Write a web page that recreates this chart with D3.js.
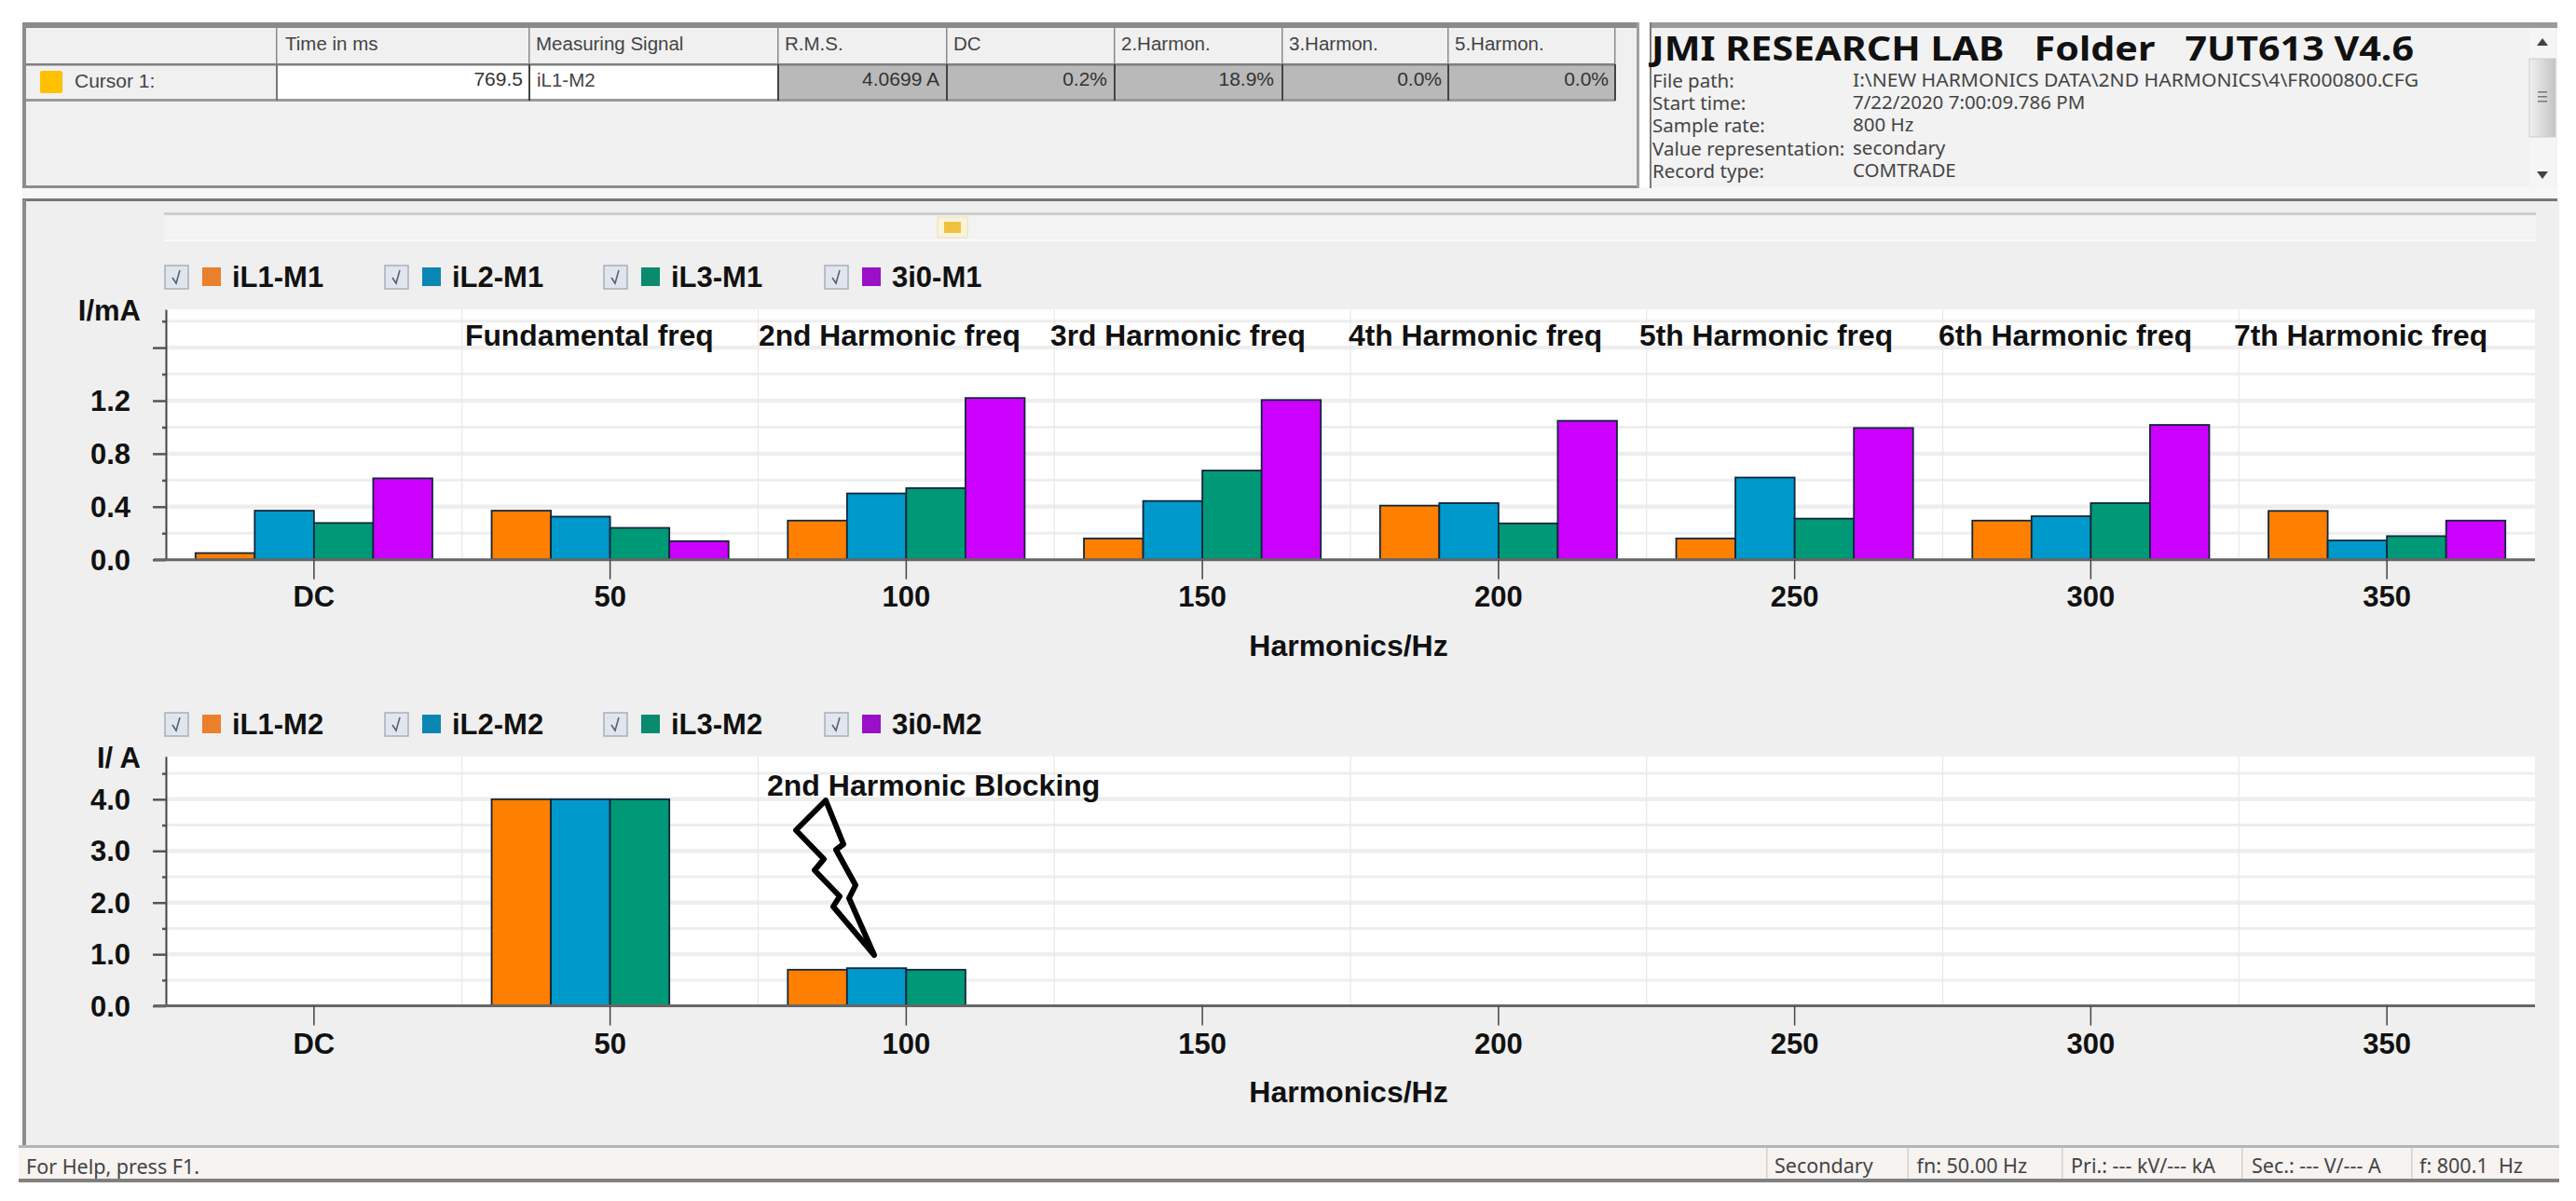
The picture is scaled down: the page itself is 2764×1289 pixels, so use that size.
<!DOCTYPE html>
<html><head><meta charset="utf-8">
<script src="https://cdn.jsdelivr.net/npm/d3@7"></script>
<style>html,body{margin:0;padding:0;background:#fff;overflow:hidden}svg{display:block}
text{white-space:pre}</style></head><body><div id="c"></div>
<script>
const categories = ["DC","50","100","150","200","250","300","350"];
const seriesTop = ["iL1-M1","iL2-M1","iL3-M1","3i0-M1"];
const seriesBottom = ["iL1-M2","iL2-M2","iL3-M2","3i0-M2"];
const iL1M1 = [0.05,0.37,0.295,0.16,0.408,0.16,0.295,0.368];
const iL2M1 = [0.37,0.325,0.50,0.443,0.427,0.62,0.328,0.145];
const iL3M1 = [0.277,0.24,0.54,0.673,0.274,0.31,0.427,0.178];
const i30M1 = [0.614,0.14,1.22,1.205,1.048,0.994,1.017,0.295];
const iL1M2 = [0,4.0,0.70,0,0,0,0,0];
const iL2M2 = [0,4.0,0.73,0,0,0,0,0];
const iL3M2 = [0,4.0,0.70,0,0,0,0,0];
const i30M2 = [0,0,0,0,0,0,0,0];
const colors = ["#ff7f00","#0099cc","#009977","#cc00ff"];
const swatchColors = ["#ea7f2c","#0a86b4","#0a8a6e","#9a10c8"];
const topTicks = [0,0.2,0.4,0.6,0.8,1.0,1.2,1.4,1.6,1.8];
const topMajor = [0,0.4,0.8,1.2,1.6];
const topLabels = [0,0.4,0.8,1.2];
const bottomTicks = [0,0.5,1,1.5,2,2.5,3,3.5,4,4.5];
const bottomMajor = [0,1,2,3,4];
const bottomLabels = [0,1,2,3,4];
const harmonicNotes = ["Fundamental freq","2nd Harmonic freq","3rd Harmonic freq","4th Harmonic freq","5th Harmonic freq","6th Harmonic freq","7th Harmonic freq"];
const tableHeaders = ["Time in ms","Measuring Signal","R.M.S.","DC","2.Harmon.","3.Harmon.","5.Harmon."];
const tableValues = ["769.5","iL1-M2","4.0699 A","0.2%","18.9%","0.0%","0.0%"];
const infoLabels = ["File path:","Start time:","Sample rate:","Value representation:","Record type:"];
const infoValues = ["I:\\NEW HARMONICS DATA\\2ND HARMONICS\\4\\FR000800.CFG","7/22/2020 7:00:09.786 PM","800 Hz","secondary","COMTRADE"];
const statusCells = ["Secondary","fn: 50.00 Hz","Pri.: --- kV/--- kA","Sec.: --- V/--- A","f: 800.1  Hz"];

const W=2764,H=1289;
const svg=d3.select("#c").append("svg").attr("width",W).attr("height",H).attr("viewBox",`0 0 ${W} ${H}`);
const SANS="'Liberation Sans',Arial,sans-serif", UI="'Noto Sans',sans-serif";
const rect=(x,y,w,h,f,g=svg)=>g.append("rect").attr("x",x).attr("y",y).attr("width",w).attr("height",h).attr("fill",f);
const text=(x,y,s,o={},g=svg)=>g.append("text").attr("x",x).attr("y",y).attr("dominant-baseline","central")
  .attr("font-family",o.ff||SANS).attr("font-size",o.fs||19).attr("font-weight",o.fw||"normal")
  .attr("fill",o.fill||"#333").attr("text-anchor",o.a||"start").text(s);

/* ---------- window chrome ---------- */
rect(24,24,1735,177,"#f0f0f0");
rect(1770,24,974,177,"#f2f2f2");
rect(24,201,2720,13,"#f7f7f7");
rect(24,214,2722,1016,"#efefef");
rect(24,24,1735,6,"#8a8a8a");
rect(1770,24,974,6,"#9a9a9a");
rect(24,199,1735,3,"#8c8c8c");
rect(24,24,4,178,"#8c8c8c");
rect(1756,24,3,178,"#a0a0a0");
rect(1770,24,2,178,"#7a7a7a");
rect(24,213,2720,3,"#777");
rect(24,214,4,1016,"#8c8c8c");

/* table */
const colX=[297,568,835,1016,1196,1376,1554,1733];
rect(835,69,898,38,"#b9b9b9");
rect(297,69,538,38,"#ffffff");
rect(28,106,1705,3,"#9a9a9a");
rect(28,68,1705,2.5,"#7f7f7f");
colX.forEach(x=>rect(x-1,30,1.5,78,"#8a8a8a"));
colX.forEach((x,i)=>rect(x-1,69,2,39,i>0?"#444":"#777"));
tableHeaders.forEach((t,i)=>text(colX[i]+(i==0?9:7),46,t,{fs:20.5,fill:"#444"}));
rect(43,76,24,24,"#ffc000").attr("rx",2);
text(80,86,"Cursor 1:",{fs:21,fill:"#444"});
const rightEdges=[561,null,1008,1188,1367,1547,1726];
tableValues.forEach((t,i)=>{
  if(i==1) text(576,85,t,{fs:20.5,fill:"#444"});
  else text(rightEdges[i],84,t,{fs:21,fill:"#333",a:"end"});
});

/* info panel */
text(1772,51,"JMI RESEARCH LAB   Folder   7UT613 V4.6",{ff:UI,fs:36,fw:"bold",fill:"#111"}).attr("textLength",818).attr("lengthAdjust","spacingAndGlyphs");
infoLabels.forEach((t,i)=>text(1773,86+i*24.2,t,{ff:UI,fs:20.5,fill:"#444"}));
infoValues.forEach((t,i)=>{
  const v=text(1988,85+i*24.2,t,{ff:UI,fs:20.5,fill:"#444"});
  if(i==0) v.attr("textLength",607).attr("lengthAdjust","spacingAndGlyphs");
});
rect(2714,30,28,170,"#f5f5f5");
const sbGrad=svg.append("defs").append("linearGradient").attr("id","sb");
sbGrad.append("stop").attr("offset",0).attr("stop-color","#f0f0f0");
sbGrad.append("stop").attr("offset",1).attr("stop-color","#c4c4c4");
rect(2714,63,28,84,"url(#sb)").attr("stroke","#ccc");
svg.append("path").attr("d","M2728 41l-6 8h12zM2728 192l-6 -8h12z").attr("fill","#444");
[98,103,108].forEach(y=>rect(2723,y,10,1.5,"#777"));

/* slider */
rect(176,228,2545,30,"#f3f3f3");
rect(176,228,2545,3,"#cdcdcd");
rect(176,257,2545,2,"#fbfbfb");
rect(1006,233,32,22,"#fbf3d8").attr("stroke","#e8e0c0");
rect(1013,238,18,12,"#f0c040");

/* status bar */
rect(20,1229,2726,3,"#b5b5b5");
rect(20,1232,2726,33,"#f6f3f1");
rect(20,1265,2726,4,"#808080");
text(28,1251,"For Help, press F1.",{ff:UI,fs:21.5,fill:"#444"});
[1895,2046.5,2212,2405,2587].forEach((x,i)=>{
  rect(x,1232,1.5,33,"#d5d2d0");
  text(x+[9,10,10,11,9][i],1250,statusCells[i],{ff:UI,fs:21.5,fill:"#444"});
});

/* ---------- charts ---------- */
function chart(o){
  const g=svg.append("g");
  const x0=d3.scaleBand().domain(categories).range([178,2720]).paddingInner(0.2).paddingOuter(0.1);
  const xStep=d3.scalePoint().domain(d3.range(categories.length+1)).range([178,2720]);
  const x1=d3.scaleBand().domain(o.names).range([0,x0.bandwidth()]);
  const y=d3.scaleLinear().domain([0,o.yMax]).range([o.base,o.top]);
  rect(178,o.top,2542,o.base-o.top,"#ffffff",g);
  // horizontal grid
  g.append("g").selectAll("line").data(o.ticks).join("line")
    .attr("x1",178).attr("x2",2720).attr("y1",d=>y(d)).attr("y2",d=>y(d))
    .attr("stroke",d=>d==0?"none":"#eeeeee").attr("stroke-width",d=>o.major.includes(d)?4.5:3);
  // vertical grid
  g.append("g").selectAll("line").data(d3.range(1,categories.length)).join("line")
    .attr("x1",d=>xStep(d)).attr("x2",d=>xStep(d)).attr("y1",o.top).attr("y2",o.base)
    .attr("stroke","#e8e8e8").attr("stroke-width",1.2);
  // bars
  o.names.forEach((n,si)=>{
    g.append("g").selectAll("rect").data(o.values[si].map((v,i)=>({v,c:categories[i]})).filter(d=>d.v>0)).join("rect")
      .attr("x",d=>x0(d.c)+x1(n)).attr("width",x1.bandwidth())
      .attr("y",d=>y(d.v)).attr("height",d=>y(0)-y(d.v))
      .attr("fill",colors[si]).attr("stroke","#12263a").attr("stroke-width",1.8);
  });
  // axes
  const ay=g.append("g").attr("transform","translate(178,0)")
    .call(d3.axisLeft(y).tickValues(o.ticks).tickSizeOuter(0).tickFormat(d=>o.labels.includes(d)?d.toFixed(1):""));
  ay.select(".domain").attr("stroke","#444").attr("stroke-width",2);
  ay.selectAll(".tick line").attr("x2",d=>o.major.includes(d)?-14:-4).attr("stroke","#555").attr("stroke-width",2.5);
  ay.selectAll(".tick text").attr("x",-38).attr("dy",null).attr("dominant-baseline","central")
    .attr("font-family",SANS).attr("font-size",31).attr("font-weight","bold").attr("fill","#111");
  const ax=g.append("g").attr("transform",`translate(0,${o.base})`)
    .call(d3.axisBottom(x0).tickSizeOuter(0).tickSize(21).tickPadding(14));
  ax.select(".domain").attr("stroke","#666").attr("stroke-width",3).attr("d",`M165,0H2720`);
  ax.selectAll(".tick line").attr("stroke","#444").attr("stroke-width",1.5);
  ax.selectAll(".tick text").attr("font-family",SANS).attr("font-size",31).attr("font-weight","bold").attr("fill","#111")
    .attr("y",null).attr("dy",null).attr("transform",`translate(0,${o.xLabelY-o.base})`).attr("dominant-baseline","central");
  text(1447,o.xTitleY,"Harmonics/Hz",{fs:32,fw:"bold",fill:"#111",a:"middle"},g);
  text(151,o.yTitleY,o.yTitle,{fs:31,fw:"bold",fill:"#111",a:"end"},g);
  // legend
  [177,413,648,885].forEach((lx,i)=>{
    const l=g.append("g").attr("transform",`translate(${lx},${o.legendY})`);
    rect(0,-12,25,25,"#e0e5ee",l).attr("stroke","#a9afba").attr("stroke-width",1.5);
    l.append("path").attr("d","M8 1l4 6l4 -14").attr("fill","none").attr("stroke","#5a6070").attr("stroke-width",1.6);
    rect(40,-10,20,20,swatchColors[i],l);
    text(72,0,o.names[i],{fs:31,fw:"bold",fill:"#111"},l);
  });
  return {g,x0,y};
}

const topChart=chart({names:seriesTop,values:[iL1M1,iL2M1,iL3M1,i30M1],top:332,base:600.7,yMax:1.889,
  ticks:topTicks,major:topMajor,labels:topLabels,yTitle:"I/mA",yTitleY:333,xLabelY:640,xTitleY:693,legendY:297});
const botChart=chart({names:seriesBottom,values:[iL1M2,iL2M2,iL3M2,i30M2],top:811.8,base:1079.6,yMax:4.83,
  ticks:bottomTicks,major:bottomMajor,labels:bottomLabels,yTitle:"I/ A",yTitleY:813,xLabelY:1120,xTitleY:1172,legendY:777});

/* annotations */
[499,814,1127,1447,1759,2080,2397].forEach((x,i)=>text(x,360,harmonicNotes[i],{fs:31.8,fw:"bold",fill:"#111"},topChart.g));
text(823,843,"2nd Harmonic Blocking",{fs:32,fw:"bold",fill:"#111"},botChart.g);
botChart.g.append("path").attr("d",d3.line()([[886,859],[854,891],[884,922],[874,934],[901,962],[894,973],[938,1025],[911,964],[918,950],[897,912],[905,906]])+"Z")
  .attr("fill","none").attr("stroke","#000").attr("stroke-width",6).attr("stroke-linejoin","round");
</script></body></html>
